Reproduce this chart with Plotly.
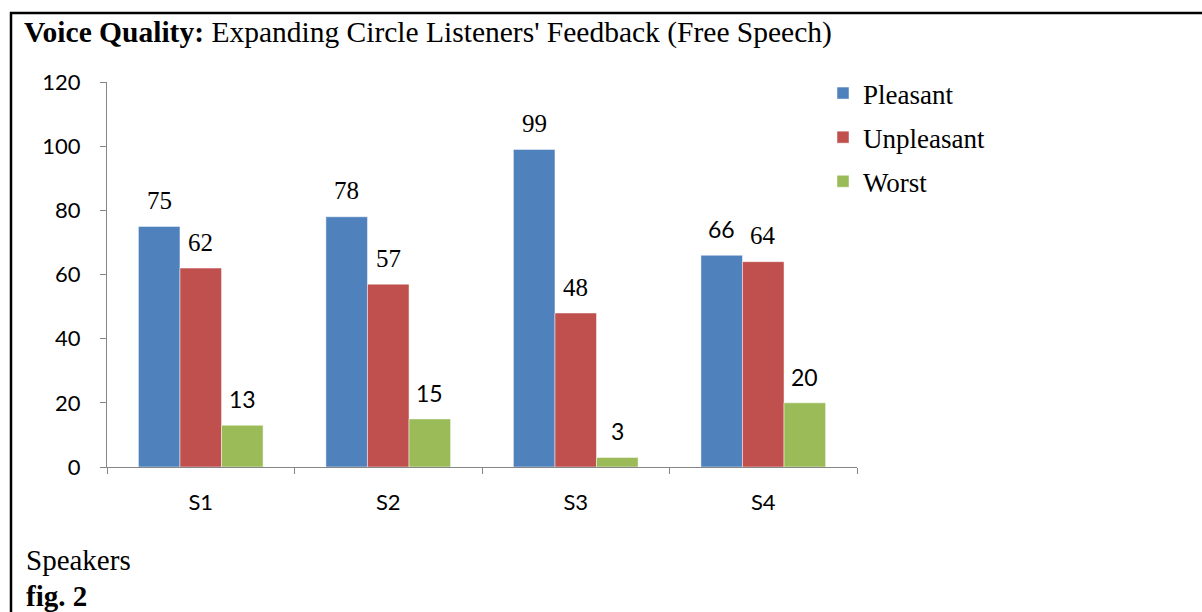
import plotly.graph_objects as go

speakers = ["S1", "S2", "S3", "S4"]
series_names = ["Pleasant", "Unpleasant", "Worst"]
pleasant = [75, 78, 99, 66]
unpleasant = [62, 57, 48, 64]
worst = [13, 15, 3, 20]
colors = ["#4F81BD", "#C0504D", "#9BBB59"]
# label font per point (serif or sans, as seen in the reference)
label_fonts = [
    ["serif", "serif", "serif", "sans"],
    ["serif", "serif", "serif", "serif"],
    ["sans", "sans", "sans", "sans"],
]
y_ticks = [0, 20, 40, 60, 80, 100, 120]

W, H = 1202, 612
ML, MR, MT, MB = 107, 345, 82, 145
PW, PH = W - ML - MR, H - MT - MB

SERIF = "Liberation Serif, Times New Roman, serif"
SANS = "Lato, Carlito, Calibri, sans-serif"

values = [pleasant, unpleasant, worst]

fig = go.Figure()
for name, vals, col in zip(series_names, values, colors):
    fig.add_trace(go.Bar(
        x=speakers, y=vals, name=name, legendgroup=name,
        marker=dict(color=col, line=dict(color="rgba(255,255,255,0.6)", width=0.8)),
    ))

# data labels
bar_px = PW / 4 * (1 - 0.335) / 3
for i, vals in enumerate(values):
    for j, v in enumerate(vals):
        fam = SERIF if label_fonts[i][j] == "serif" else SANS
        size = 25 if label_fonts[i][j] == "serif" else 23
        fig.add_annotation(
            x=speakers[j], y=v, xref="x", yref="y",
            text=str(v), showarrow=False,
            xshift=(i - 1) * bar_px, yshift=26,
            yanchor="middle", xanchor="center",
            font=dict(family=fam, size=size, color="#000000"),
        )

def px_to_paper_x(px):
    return (px - ML) / PW

def py_to_paper_y(py):
    return (H - MB - py) / PH

fig.add_annotation(
    x=px_to_paper_x(24), y=py_to_paper_y(560), xref="paper", yref="paper",
    text="Speakers", showarrow=False, xanchor="left", yanchor="middle",
    font=dict(family=SERIF, size=29, color="#000000"),
)
fig.add_annotation(
    x=px_to_paper_x(24), y=py_to_paper_y(596), xref="paper", yref="paper",
    text="<b>fig. 2</b>", showarrow=False, xanchor="left", yanchor="middle",
    font=dict(family=SERIF, size=29, color="#000000"),
)

# page border (top and left)
fig.add_shape(type="line", xref="paper", yref="paper",
              x0=px_to_paper_x(10), x1=px_to_paper_x(1210),
              y0=py_to_paper_y(13), y1=py_to_paper_y(13),
              line=dict(color="#000000", width=2.5))
fig.add_shape(type="line", xref="paper", yref="paper",
              x0=px_to_paper_x(11), x1=px_to_paper_x(11),
              y0=py_to_paper_y(12), y1=py_to_paper_y(620),
              line=dict(color="#000000", width=2.5))

fig.update_layout(
    width=W, height=H,
    margin=dict(l=ML, r=MR, t=MT, b=MB, autoexpand=False),
    paper_bgcolor="#FFFFFF", plot_bgcolor="#FFFFFF",
    barmode="group", bargap=0.335, bargroupgap=0,
    title=dict(
        text="<b>Voice Quality:</b> Expanding Circle Listeners' Feedback (Free Speech)",
        x=24 / W, xanchor="left", xref="container",
        y=1 - 32 / H, yanchor="middle", yref="container",
        font=dict(family=SERIF, size=29.5, color="#000000"),
    ),
    showlegend=True,
    legend=dict(
        x=px_to_paper_x(823), y=py_to_paper_y(69), xanchor="left", yanchor="top",
        font=dict(family=SERIF, size=27, color="#000000"),
        tracegroupgap=6, traceorder="grouped",
        bgcolor="rgba(0,0,0,0)", itemwidth=30,
    ),
    xaxis=dict(
        showgrid=False, showline=True, linecolor="#868686", linewidth=1.2,
        ticks="outside", ticklen=6, tickcolor="#868686", tickson="boundaries",
        ticklabelstandoff=15,
        tickfont=dict(family=SANS, size=22, color="#000000"),
        fixedrange=True,
    ),
    yaxis=dict(
        range=[0, 120], tickvals=y_ticks, showgrid=False, zeroline=False,
        showline=True, linecolor="#868686", linewidth=1.2,
        ticks="outside", ticklen=6, tickcolor="#868686",
        ticklabelstandoff=15,
        tickfont=dict(family=SANS, size=22, color="#000000"),
        fixedrange=True,
    ),
)

fig.write_html(
    "out.html",
    config={"displayModeBar": False},
    post_script="document.body.style.margin='0';document.body.style.overflow='hidden';",
)
